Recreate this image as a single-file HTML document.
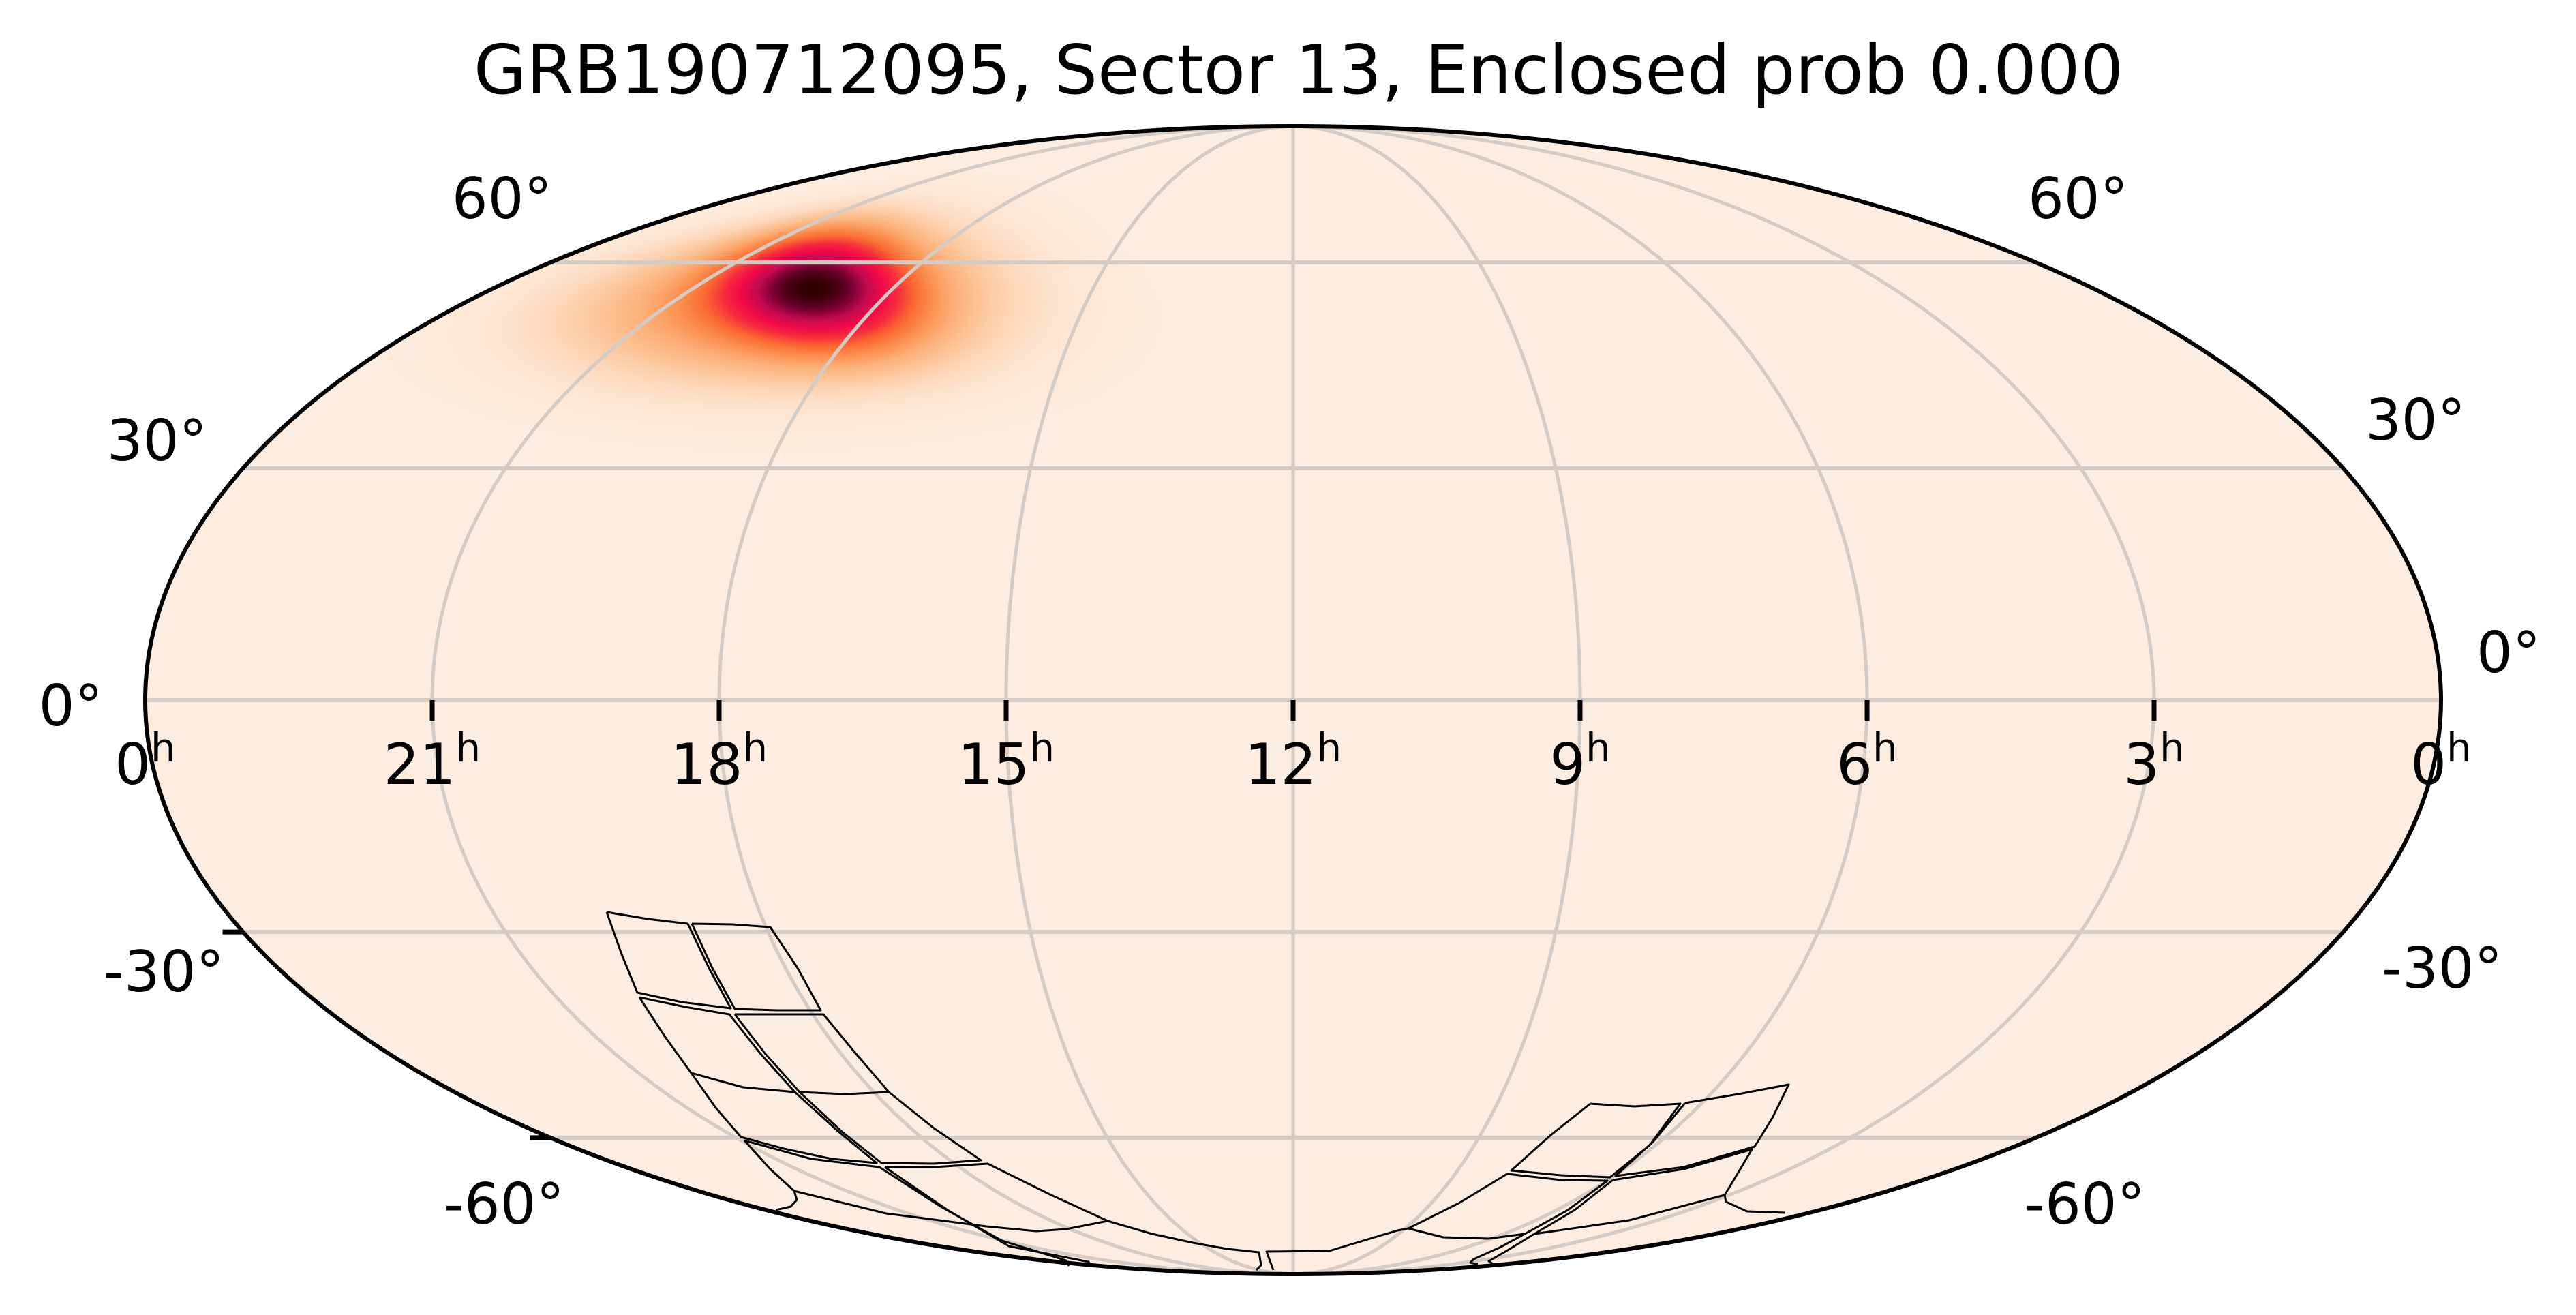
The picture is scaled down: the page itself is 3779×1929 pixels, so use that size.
<!DOCTYPE html>
<html><head><meta charset="utf-8">
<style>
html,body{margin:0;padding:0;background:#fff;}
#wrap{position:relative;width:3779px;height:1929px;overflow:hidden;}
#wrap svg,#wrap canvas{position:absolute;left:0;top:0;}
text{font-family:"DejaVu Sans","Liberation Sans",sans-serif;fill:#000;}
</style></head>
<body>
<div id="wrap">
<svg id="bg" width="3779" height="1929"></svg>
<canvas id="heat" width="3779" height="1929"></canvas>
<svg id="fg" width="3779" height="1929"></svg>
</div>
<script>
// ---- data ----
const raTicks = [0, 21, 18, 15, 12, 9, 6, 3, 0];
const raTickFrac = [-1, -0.75, -0.5, -0.25, 0, 0.25, 0.5, 0.75, 1];
const decTicks = [60, 30, 0, -30, -60];
const decGridLines = [60, 30, 0, -30, -60];
const meridianHours = [21, 18, 15, 12, 9, 6, 3];
// probability blob components: RA(h), Dec(deg), weight, sigma major(deg), sigma minor(deg), angle(deg)
const blobRA = [19.22, 19.4];
const blobDec = [56.1, 54.5];
const blobWeight = [1.0, 0.35];
const blobSigMaj = [9.5, 17];
const blobSigMin = [4.0, 7.5];
const blobAngle = [-24, -8];
const titleText = "GRB190712095, Sector 13, Enclosed prob 0.000";

// ---- layout ----
const CX = 1897, CY = 1027, A = 1684, B = 842;
const NS = "http://www.w3.org/2000/svg";
function thetaOf(decDeg){
  const phi = decDeg*Math.PI/180;
  if (Math.abs(Math.abs(phi)-Math.PI/2) < 1e-9) return phi;
  let t = phi;
  for (let i=0;i<50;i++){
    const f = 2*t + Math.sin(2*t) - Math.PI*Math.sin(phi);
    const d = 2 + 2*Math.cos(2*t);
    if (Math.abs(d) < 1e-12) break;
    t -= f/d;
  }
  return t;
}
function xOf(ra, dec){ const t = thetaOf(dec); const lam = (12 - ra)/12; return CX + A*lam*Math.cos(t); }
function yOf(dec){ return CY - B*Math.sin(thetaOf(dec)); }
function mk(parent, tag, attrs){
  const e = document.createElementNS(NS, tag);
  for (const k in attrs) e.setAttribute(k, attrs[k]);
  parent.appendChild(e); return e;
}
const bg = document.getElementById('bg');
const fg = document.getElementById('fg');

const bgEll = mk(bg, 'ellipse', {cx:CX, cy:CY, rx:A, ry:B, fill:'#fdede0'});



// ---- heatmap ----
const cmapStops = [
  [0.00,[253,237,224]],[0.03,[253,227,207]],[0.10,[252,196,150]],[0.20,[251,155,92]],
  [0.32,[250,108,50]],[0.45,[246,40,62]],[0.56,[241,10,72]],[0.70,[196,10,82]],
  [0.85,[110,0,45]],[1.00,[45,0,0]]];
function cmap(p){
  p = Math.max(0, Math.min(1, p));
  for (let i=1;i<cmapStops.length;i++){
    if (p <= cmapStops[i][0]){
      const a = cmapStops[i-1], b = cmapStops[i];
      const f = (p - a[0])/(b[0]-a[0]);
      return [0,1,2].map(k => Math.round(a[1][k] + f*(b[1][k]-a[1][k])));
    }
  }
  return cmapStops[cmapStops.length-1][1];
}
function blobDensity(ra, dec){
  let p = 0;
  for (let i=0;i<blobRA.length;i++){
    const du = -(ra - blobRA[i])*15*Math.cos(blobDec[i]*Math.PI/180);
    const dv = dec - blobDec[i];
    const an = blobAngle[i]*Math.PI/180;
    const u = du*Math.cos(an) + dv*Math.sin(an);
    const v = -du*Math.sin(an) + dv*Math.cos(an);
    p += blobWeight[i]*Math.exp(-0.5*(u*u/(blobSigMaj[i]*blobSigMaj[i]) + v*v/(blobSigMin[i]*blobSigMin[i])));
  }
  return p;
}
(function(){
  const cv = document.getElementById('heat');
  const ctx = cv.getContext('2d');
  const x0 = 500, y0 = 150, w = 1400, h = 800;
  const img = ctx.createImageData(w, h);
  const peak = blobDensity(blobRA[0], blobDec[0]);
  for (let py=0; py<h; py++){
    const Y = y0 + py;
    const s = (CY - Y)/B;
    if (Math.abs(s) >= 1) continue;
    const t = Math.asin(s);
    const dec = Math.asin((2*t + Math.sin(2*t))/Math.PI)*180/Math.PI;
    const ct = Math.cos(t);
    for (let px=0; px<w; px++){
      const X = x0 + px;
      const lamFrac = (X - CX)/(A*ct);
      if (Math.abs(lamFrac) > 1) continue;
      const ra = 12 - 12*lamFrac;
      const p = blobDensity(ra, dec)/peak;
      if (p < 0.004) continue;
      const c = cmap(p);
      const k = 4*(py*w + px);
      img.data[k]=c[0]; img.data[k+1]=c[1]; img.data[k+2]=c[2]; img.data[k+3]=255;
    }
  }
  ctx.putImageData(img, x0, y0);
})();

// ---- gridlines ----
const GRID = '#d3cbc4';
const gridG = mk(fg, 'g', {fill:'none', stroke:GRID, 'stroke-width':5});


decGridLines.forEach(d => {
  const t = thetaOf(d), y = yOf(d), hw = A*Math.cos(t);
  const l = mk(gridG, 'line', {x1:CX-hw, y1:y, x2:CX+hw, y2:y, 'stroke-width':6});
  
  
});
meridianHours.forEach(hh => {
  let dstr = '';
  for (let k=0;k<=180;k++){
    const dec = -90 + k;
    const x = xOf(hh, dec), y = yOf(dec);
    dstr += (k? 'L':'M') + x.toFixed(1) + ' ' + y.toFixed(1);
  }
  const p = mk(gridG, 'path', {d:dstr});
  
  
});

// ---- footprints (TESS sector 13 camera outlines) ----
const footprintPaths = [
  [[890,1338],[950,1348],[1009,1355],[1040,1420],[1072,1479],[1000,1470],[935,1456],[912,1400],[890,1338]],
  [[1015,1355],[1075,1356],[1130,1360],[1170,1420],[1204,1482],[1140,1482],[1078,1480],[1045,1420],[1015,1355]],
  [[938,1463],[1005,1477],[1070,1488],[1115,1545],[1166,1602],[1230,1660],[1286,1706],[1220,1700],[1150,1685],[1087,1668],[1050,1625],[1014,1574],[975,1520],[938,1463]],
  [[1014,1574],[1090,1595],[1166,1602]],
  [[1078,1488],[1140,1488],[1208,1488],[1255,1545],[1304,1602],[1370,1655],[1439,1702],[1370,1707],[1293,1706],[1235,1660],[1173,1602],[1122,1545],[1078,1488]],
  [[1173,1602],[1240,1605],[1304,1602]],
  [[1092,1673],[1190,1700],[1290,1712],[1380,1770],[1470,1820],[1564,1849],[1568,1857]],
  [[1092,1673],[1130,1715],[1165,1747],[1169,1760],[1160,1770],[1138,1775]],
  [[1165,1747],[1300,1780],[1447,1799],[1520,1806],[1564,1803],[1625,1791]],
  [[1298,1712],[1370,1712],[1449,1707],[1540,1752],[1625,1791],[1690,1810],[1750,1823],[1800,1832],[1847,1837],[1850,1856],[1843,1863]],
  [[1298,1712],[1390,1775],[1480,1828],[1597,1851],[1601,1858]],
  [[1868,1863],[1858,1836],[1950,1835],[2050,1805],[2066,1802]],
  [[2333,1619],[2398,1623],[2465,1619],[2420,1680],[2362,1727],[2290,1724],[2217,1717],[2275,1665],[2333,1619]],
  [[2472,1618],[2550,1605],[2624,1591],[2600,1640],[2574,1682],[2470,1712],[2370,1725],[2425,1675],[2472,1618]],
  [[2211,1722],[2290,1731],[2358,1732],[2300,1775],[2237,1810],[2200,1830],[2162,1847],[2157,1852],[2168,1855]],
  [[2211,1722],[2140,1765],[2066,1802],[2117,1815],[2184,1817],[2237,1810]],
  [[2366,1731],[2470,1715],[2570,1686],[2550,1720],[2530,1753],[2532,1763],[2563,1777],[2619,1779]],
  [[2530,1753],[2390,1790],[2251,1810]],
  [[2366,1731],[2310,1775],[2251,1810],[2210,1835],[2184,1850],[2192,1855]]
];
const fpG = mk(fg, 'g', {fill:'none', stroke:'#000', 'stroke-width':3, 'stroke-linejoin':'round'});


footprintPaths.forEach((pts, i) => {
  const d = pts.map((q,k) => (k?'L':'M') + q[0] + ' ' + q[1]).join('');
  const p = mk(fpG, 'path', {d:d});
  
  
});

// ---- frame ----
const frame = mk(fg, 'ellipse', {cx:CX, cy:CY, rx:A, ry:B, fill:'none', stroke:'#000', 'stroke-width':6});



// ---- ticks ----
const tickG = mk(fg, 'g', {stroke:'#000', 'stroke-width':7});


raTickFrac.forEach((f, i) => {
  if (Math.abs(f) === 1) return;
  const x = CX + A*f;
  const l = mk(tickG, 'line', {x1:x, y1:CY, x2:x, y2:CY+30});
  
  
});
[-30, -60].forEach(d => {
  const t = thetaOf(d), y = yOf(d), xl = CX - A*Math.cos(t);
  const l = mk(tickG, 'line', {x1:xl-30, y1:y, x2:xl, y2:y});
  
  
});

// ---- labels ----
raTicks.forEach((v, i) => {
  const x = CX + A*raTickFrac[i];
  const t = mk(fg, 'text', {x:x, y:1150, 'font-size':83, 'text-anchor':'middle'});
  t.textContent = String(v);
  const s = mk(t, 'tspan', {dy:-33, 'font-size':58});
  s.textContent = 'h';
  
  
});
// label anchors (layout only)
const decLeftAnchor = [[810,320],[304,675],[151,1064],[329,1454],[828,1795]];
const decRightAnchor = [[2975,320],[3470,645],[3633,986],[3494,1449],[2970,1795]];
decTicks.forEach((d, i) => {
  const tl = mk(fg, 'text', {x:decLeftAnchor[i][0], y:decLeftAnchor[i][1], 'font-size':83, 'text-anchor':'end'});
  tl.textContent = d + '°';
  
  
  const tr = mk(fg, 'text', {x:decRightAnchor[i][0], y:decRightAnchor[i][1], 'font-size':83, 'text-anchor':'start'});
  tr.textContent = d + '°';
  
  
});
const title = mk(fg, 'text', {x:1905, y:137, 'font-size':100, 'text-anchor':'middle'});
title.textContent = titleText;


</script>
</body></html>
